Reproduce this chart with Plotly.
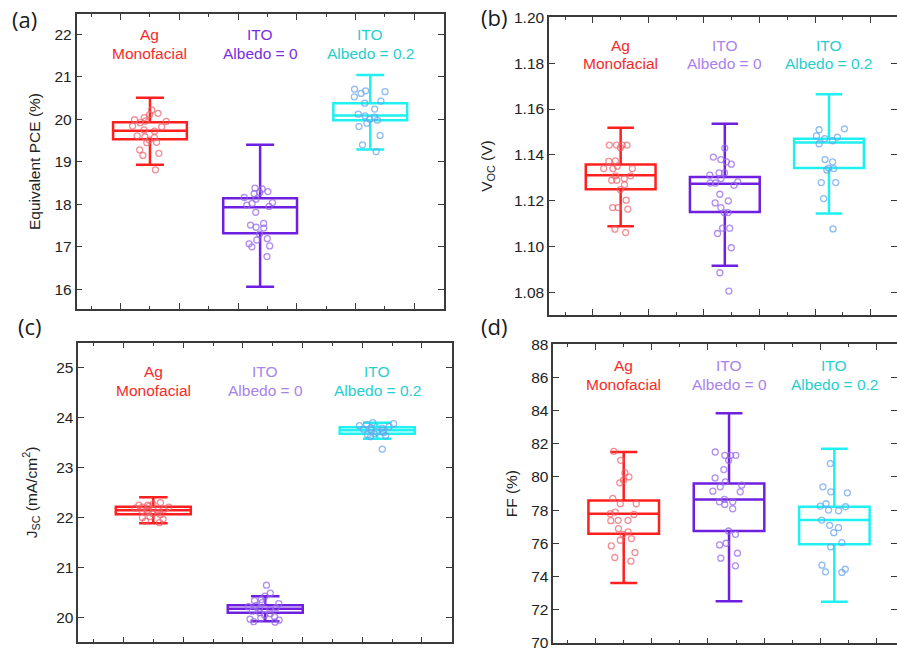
import plotly.graph_objects as go

# ---------------- data ----------------
group_line1 = ["Ag", "ITO", "ITO"]
group_line2 = ["Monofacial", "Albedo = 0", "Albedo = 0.2"]
group_pos = [1, 2, 3]

# (a) Equivalent PCE (%)
pce_ag = [20.22, 20.14, 20.11, 20.04, 19.99, 19.95, 19.92, 19.96, 19.84, 19.82, 19.75,
          19.72, 19.61, 19.59, 19.57, 19.51, 19.46, 19.45, 19.28, 19.20, 19.15, 18.81]
pce_ito0 = [18.38, 18.36, 18.30, 18.28, 18.25, 18.16, 18.12, 18.04, 18.02, 17.98, 17.95, 17.81,
            17.55, 17.51, 17.46, 17.44, 17.30, 17.16, 17.19, 17.07, 17.02, 17.00, 16.77]
pce_ito02 = [20.71, 20.67, 20.65, 20.61, 20.53, 20.43, 20.38, 20.24, 20.12, 20.08, 20.05,
             20.00, 19.98, 19.91, 19.83, 19.62, 19.40, 19.24]
pce_lo = [18.93, 16.06, 19.29]
pce_q1 = [19.53, 17.32, 19.98]
pce_med = [19.73, 17.93, 20.09]
pce_q3 = [19.93, 18.14, 20.38]
pce_hi = [20.51, 19.40, 21.04]

# (b) Voc (V)
voc_ag = [1.1443, 1.1443, 1.1432, 1.1443, 1.1443, 1.1374, 1.1372, 1.1341, 1.1351, 1.1341, 1.1341, 1.1309,
          1.1309, 1.1297, 1.1290, 1.1290, 1.1270, 1.1249, 1.1203, 1.1171, 1.1164, 1.1171, 1.1062, 1.1077]
voc_ito0 = [1.1430, 1.1391, 1.1380, 1.1370, 1.1360, 1.1322, 1.1322, 1.1312, 1.1297, 1.1278, 1.1283, 1.1278,
            1.1268, 1.1229, 1.1200, 1.1191, 1.1171, 1.1148, 1.1149, 1.1081, 1.1081, 1.1058, 1.0996,
            1.0887, 1.0807]
voc_ito02 = [1.1510, 1.1514, 1.1483, 1.1478, 1.1471, 1.1462, 1.1449, 1.1380, 1.1370, 1.1341, 1.1343,
             1.1335, 1.1280, 1.1280, 1.1210, 1.1078]
voc_lo = [1.1090, 1.0917, 1.1145]
voc_q1 = [1.1251, 1.1152, 1.1343]
voc_med = [1.1312, 1.1275, 1.1454]
voc_q3 = [1.1358, 1.1304, 1.1471]
voc_hi = [1.1519, 1.1536, 1.1664]

# (c) Jsc (mA/cm2)
jsc_ag = [22.30, 22.27, 22.25, 22.25, 22.23, 22.21, 22.21, 22.19, 22.17, 22.15, 22.15, 22.14,
          22.12, 22.10, 22.08, 22.06, 22.02, 22.00, 21.97, 21.93, 21.90]
jsc_ito0 = [20.65, 20.49, 20.36, 20.34, 20.43, 20.30, 20.28, 20.24, 20.22, 20.20, 20.18, 20.16,
            20.13, 20.10, 20.08, 20.05, 20.02, 19.99, 19.97, 19.95, 19.92, 19.91]
jsc_ito02 = [23.90, 23.88, 23.86, 23.84, 23.82, 23.80, 23.79, 23.77, 23.75, 23.74, 23.72, 23.70,
             23.68, 23.66, 23.64, 23.62, 23.37]
jsc_lo = [21.89, 19.93, 23.58]
jsc_q1 = [22.07, 20.10, 23.68]
jsc_med = [22.15, 20.18, 23.75]
jsc_q3 = [22.22, 20.25, 23.81]
jsc_hi = [22.41, 20.43, 23.90]

# (d) FF (%)
ff_ag = [81.54, 81.00, 80.24, 80.00, 79.64, 79.80, 78.70, 78.38, 78.38, 77.88, 77.78, 77.74,
         77.38, 77.38, 77.36, 76.88, 76.68, 76.54, 76.28, 76.18, 75.84, 75.44, 75.14, 74.92]
ff_ito0 = [81.50, 81.30, 81.30, 81.30, 81.00, 80.44, 79.94, 79.70, 79.50, 79.40, 79.14, 79.10,
           78.64, 78.50, 78.34, 78.50, 78.08, 76.74, 76.54, 76.00, 75.90, 75.40, 75.10, 74.64]
ff_ito02 = [80.80, 79.40, 79.10, 79.04, 78.20, 78.38, 78.24, 78.00, 77.96, 77.40, 77.08, 76.94,
            76.64, 76.04, 75.78, 74.68, 74.24, 74.28, 74.44]
ff_lo = [73.60, 72.50, 72.48]
ff_q1 = [76.58, 76.74, 75.94]
ff_med = [77.78, 78.64, 77.40]
ff_q3 = [78.58, 79.60, 78.20]
ff_hi = [81.50, 83.84, 81.70]

# ---------------- styling ----------------
box_colors = ["#ff1f1f", "#6f1fe0", "#1ff0f0"]
point_colors = ["rgba(236,95,105,0.7)", "rgba(150,105,232,0.75)", "rgba(105,165,238,0.75)"]
text_colors_a = ["#f52a2a", "#7a2ee2", "#26cece"]
text_colors = ["#f52a2a", "#a982ea", "#26cece"]
FONT = "Liberation Sans, Arial, sans-serif"
AXC = "#3a3a3a"

panels = [
    dict(name="a", pts=[pce_ag, pce_ito0, pce_ito02], lo=pce_lo, q1=pce_q1, med=pce_med, q3=pce_q3, hi=pce_hi,
         title="Equivalent PCE (%)", xdom=[76.5, 443.5], ydom=[14, 309], xr=[0.333, 3.665],
         yr=[15.536, 22.478], dtick=1, tick0=0, fmt="", standoff=10, tcol=text_colors_a,
         lab_y=[35, 53.3], plabel="(a)", plabel_xy=(24.5, 19)),
    dict(name="b", pts=[voc_ag, voc_ito0, voc_ito02], lo=voc_lo, q1=voc_q1, med=voc_med, q3=voc_q3, hi=voc_hi,
         title="V<sub>OC</sub> (V)", xdom=[549, 897], ydom=[17, 315], xr=[0.312, 3.653],
         yr=[1.0703, 1.2001], dtick=0.02, tick0=1.0, fmt=".2f", standoff=18, tcol=text_colors,
         lab_y=[45, 63.6], plabel="(b)", plabel_xy=(494, 17.5)),
    dict(name="c", pts=[jsc_ag, jsc_ito0, jsc_ito02], lo=jsc_lo, q1=jsc_q1, med=jsc_med, q3=jsc_q3, hi=jsc_hi,
         title="J<sub>SC</sub> (mA/cm<sup>2</sup>)", xdom=[78.3, 452], ydom=[342.7, 642.3], xr=[0.33, 3.668],
         yr=[19.508, 25.5], dtick=1, tick0=0, fmt="", standoff=15, tcol=text_colors,
         lab_y=[371.5, 390], plabel="(c)", plabel_xy=(30, 326)),
    dict(name="d", pts=[ff_ag, ff_ito0, ff_ito02], lo=ff_lo, q1=ff_q1, med=ff_med, q3=ff_q3, hi=ff_hi,
         title="FF (%)", xdom=[553.3, 897], ydom=[344, 643.3], xr=[0.3314, 3.595],
         yr=[69.97, 88.01], dtick=2, tick0=0, fmt="", standoff=10, tcol=text_colors,
         lab_y=[365, 384.5], plabel="(d)", plabel_xy=(494, 326)),
]

W, H = 897, 651
fig = go.Figure()
annotations = []
layout_axes = {}

for k, p in enumerate(panels):
    sfx = "" if k == 0 else str(k + 1)
    xa, ya = "x" + sfx, "y" + sfx
    for g in range(3):
        fig.add_trace(go.Box(
            x=[group_pos[g]], q1=[p["q1"][g]], median=[p["med"][g]], q3=[p["q3"][g]],
            lowerfence=[p["lo"][g]], upperfence=[p["hi"][g]],
            width=0.67, whiskerwidth=0.38, boxpoints=False,
            line=dict(color=box_colors[g], width=2.5), fillcolor="rgba(0,0,0,0)",
            xaxis=xa, yaxis=ya, showlegend=False, hoverinfo="skip"))
        fig.add_trace(go.Box(
            y=p["pts"][g], x0=group_pos[g], width=0.67, boxpoints="all", jitter=0.5, pointpos=0,
            line=dict(color="rgba(0,0,0,0)", width=0), fillcolor="rgba(0,0,0,0)",
            marker=dict(symbol="circle-open", size=6, color=point_colors[g], line=dict(width=1.3)),
            xaxis=xa, yaxis=ya, showlegend=False, hoverinfo="skip"))
        for line_txt, ly in zip([group_line1[g], group_line2[g]], p["lab_y"]):
            annotations.append(dict(
                x=group_pos[g], xref=xa, y=1 - ly / H, yref="paper", text=line_txt,
                showarrow=False, xanchor="center", yanchor="middle",
                font=dict(family=FONT, size=15.5, color=p["tcol"][g])))
    annotations.append(dict(
        x=p["plabel_xy"][0] / W, y=1 - p["plabel_xy"][1] / H, xref="paper", yref="paper",
        text=p["plabel"], showarrow=False, xanchor="center", yanchor="middle",
        font=dict(family="Open Sans, sans-serif", size=22, color="#1a1a1a")))

    layout_axes["xaxis" + sfx] = dict(
        domain=[p["xdom"][0] / W, p["xdom"][1] / W], range=p["xr"], anchor=ya, automargin=False,
        showgrid=False, zeroline=False, showline=True, linecolor=AXC, linewidth=1.5,
        mirror="ticks", ticks="inside", ticklen=6, tickwidth=1.3, tickcolor=AXC,
        tick0=0.7333, dtick=0.53333, showticklabels=False,
        minor=dict(ticks="inside", ticklen=3.5, tickwidth=1.2, tickcolor=AXC, dtick=0.266667, tick0=0.7333))
    layout_axes["yaxis" + sfx] = dict(
        domain=[1 - p["ydom"][1] / H, 1 - p["ydom"][0] / H], range=p["yr"], anchor=xa, automargin=False,
        showgrid=False, zeroline=False, showline=True, linecolor=AXC, linewidth=1.5,
        mirror="ticks", ticks="inside", ticklen=6, tickwidth=1.3, tickcolor=AXC,
        tick0=p["tick0"], dtick=p["dtick"], tickformat=p["fmt"], ticklabeloverflow="allow",
        tickfont=dict(family=FONT, size=15.5, color="#222"),
        title=dict(text=p["title"], standoff=p["standoff"], font=dict(family=FONT, size=15.5, color="#222")))

fig.update_layout(
    width=W, height=H, margin=dict(l=0, r=0, t=0, b=0, autoexpand=False),
    paper_bgcolor="white", plot_bgcolor="white", boxmode="overlay",
    annotations=annotations, **layout_axes)

fig.write_html("out.html")
